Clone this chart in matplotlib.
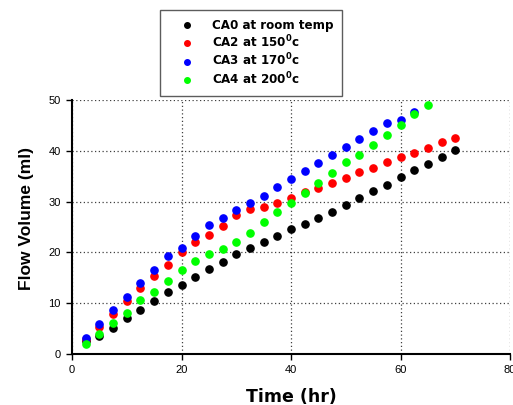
import matplotlib
matplotlib.use("Agg")
import matplotlib.pyplot as plt
from matplotlib.lines import Line2D

plt.rcParams['font.family'] = ['Liberation Sans', 'DejaVu Sans']
plt.rcParams['mathtext.fontset'] = 'dejavusans'

# Sampling times (hr)
time_ca0 = [2.5 * k for k in range(1, 29)]
time_ca2 = [2.5 * k for k in range(1, 29)]
time_ca3 = [2.5 * k for k in range(1, 26)]
time_ca4 = [2.5 * k for k in range(1, 27)]

# Cumulative flow volume (ml)
vol_ca0 = [2.5, 3.5, 5.2, 7.0, 8.7, 10.5, 12.2, 13.6, 15.2, 16.7, 18.2, 19.7, 20.8, 22.0,
           23.3, 24.6, 25.6, 26.7, 28.0, 29.4, 30.8, 32.1, 33.3, 34.8, 36.3, 37.5, 38.7, 40.2]
vol_ca2 = [2.9, 5.4, 7.9, 10.5, 12.9, 15.4, 17.6, 20.0, 22.0, 23.4, 25.2, 27.3, 28.6, 28.9,
           29.7, 30.7, 31.9, 32.7, 33.7, 34.7, 35.8, 36.7, 37.7, 38.7, 39.6, 40.6, 41.7, 42.6]
vol_ca3 = [3.1, 5.9, 8.7, 11.3, 13.9, 16.5, 19.2, 20.9, 23.2, 25.3, 26.8, 28.3, 29.8, 31.2,
           32.8, 34.5, 36.1, 37.6, 39.2, 40.7, 42.3, 43.9, 45.5, 46.1, 47.6]
vol_ca4 = [1.9, 3.9, 6.2, 8.1, 10.6, 12.3, 14.4, 16.5, 18.4, 19.6, 20.7, 22.0, 23.9, 25.9,
           28.0, 29.7, 31.6, 33.6, 35.6, 37.7, 39.1, 41.1, 43.1, 45.1, 47.2, 49.1]

labels = [r'CA0 at room temp',
          r'CA2 at 150$^{\mathbf{0}}$c',
          r'CA3 at 170$^{\mathbf{0}}$c',
          r'CA4 at 200$^{\mathbf{0}}$c']
colors = ['#000000', '#ff0000', '#0000ff', '#00ff00']

xticks = [0, 20, 40, 60, 80]
yticks = [0, 10, 20, 30, 40, 50]

W, H = 513, 405
fig = plt.figure(figsize=(W / 100, H / 100), dpi=100)
ax = fig.add_axes([72 / W, 1 - 354 / H, (510 - 72) / W, (354 - 100) / H])

series = [(time_ca0, vol_ca0), (time_ca2, vol_ca2), (time_ca3, vol_ca3), (time_ca4, vol_ca4)]
for (t, v), c in zip(series, colors):
    ax.plot(t, v, linestyle='none', marker='o', markersize=5.2,
            markerfacecolor=c, markeredgecolor=c, clip_on=False, zorder=3)

ax.set_xlim(0, 80)
ax.set_ylim(0, 50)
ax.set_xticks(xticks)
ax.set_yticks(yticks)
ax.tick_params(direction='out', length=4, width=1, labelsize=8, pad=4)
ax.grid(True, linestyle=(0, (1, 2)), color='#404040', linewidth=0.9)
ax.set_axisbelow(True)
for side in ('top', 'right'):
    ax.spines[side].set_visible(False)
for side in ('left', 'bottom'):
    ax.spines[side].set_linewidth(1.5)

ax.set_xlabel('Time (hr)', fontsize=12.5, fontweight='bold', family='DejaVu Sans',
              labelpad=9)
ax.set_ylabel('Flow Volume (ml)', fontsize=12.5, fontweight='bold')
ax.yaxis.set_label_coords(-0.087, 0.533)

handles = [Line2D([], [], linestyle='none', marker='o', markersize=4,
                  markerfacecolor=c, markeredgecolor=c) for c in colors]
leg = fig.legend(handles, labels, loc='upper left',
                 bbox_to_anchor=(160 / W, 1 - 10 / H), borderaxespad=0,
                 prop={'family': 'DejaVu Sans', 'weight': 'bold', 'size': 8.6},
                 frameon=True, fancybox=False,
                 handlelength=2.97, handletextpad=0.61, labelspacing=0.15,
                 borderpad=0.75)
leg.get_frame().set_edgecolor('#333333')
leg.get_frame().set_linewidth(1.0)

fig.savefig('out.png', dpi=100)
